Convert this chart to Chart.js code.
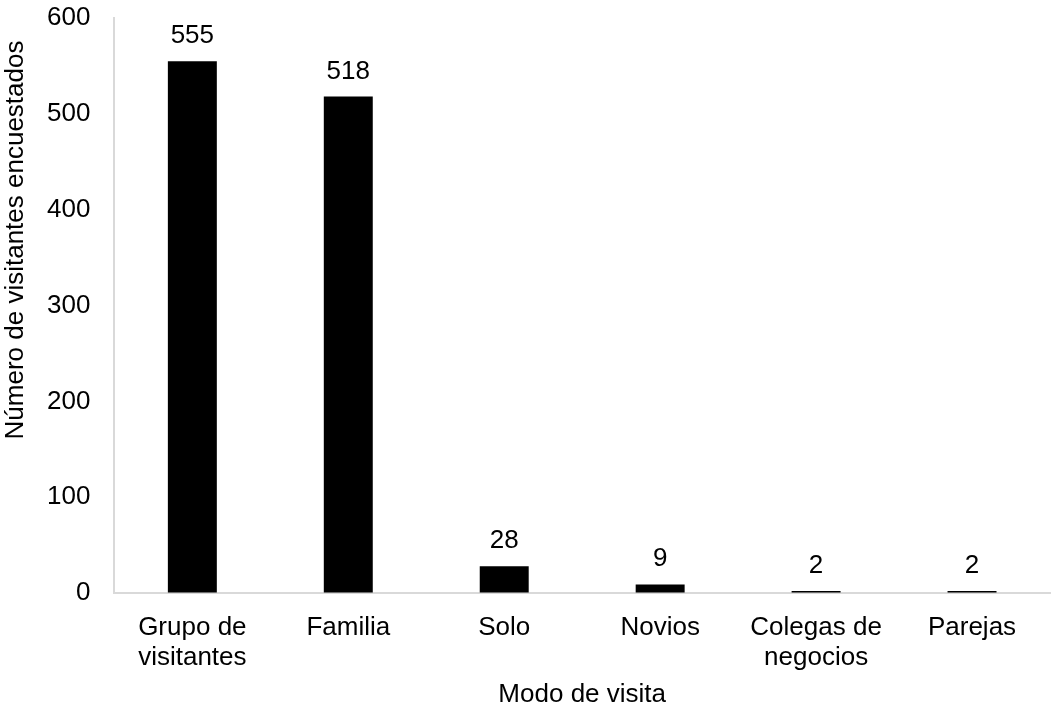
<!DOCTYPE html>
<html lang="es">
<head>
<meta charset="UTF-8">
<title>Modo de visita</title>
<script src="https://cdn.jsdelivr.net/npm/chart.js"></script>
<style>
  html, body { margin: 0; padding: 0; background: #fff; }
  #wrap { width: 1052px; height: 711px; }
</style>
</head>
<body>
<div id="wrap"><canvas id="chart" width="1052" height="711"></canvas></div>
<script>
// datos del gráfico
const categorias = [['Grupo de', 'visitantes'], 'Familia', 'Solo', 'Novios', ['Colegas de', 'negocios'], 'Parejas'];
const visitantes = [555, 518, 28, 9, 2, 2];
const ticksY = [0, 100, 200, 300, 400, 500, 600];
const tituloY = 'Número de visitantes encuestados';
const tituloX = 'Modo de visita';

const fuente = '"Liberation Sans", Arial, sans-serif';
const tam = 26;

// etiquetas de valor encima de cada barra
const etiquetasBarras = {
    id: 'etiquetasBarras',
    afterDatasetsDraw(chart) {
        const ctx = chart.ctx;
        const meta = chart.getDatasetMeta(0);
        ctx.save();
        ctx.font = tam + 'px ' + fuente;
        ctx.fillStyle = '#000';
        ctx.textAlign = 'center';
        ctx.textBaseline = 'alphabetic';
        meta.data.forEach((bar, i) => {
            ctx.fillText(String(chart.data.datasets[0].data[i]), bar.x, bar.y - 18);
        });
        ctx.restore();
    }
};

// título del eje Y, algo por encima del centro como en el original
const tituloEjeY = {
    id: 'tituloEjeY',
    afterDraw(chart) {
        const ctx = chart.ctx;
        const area = chart.chartArea;
        ctx.save();
        ctx.font = tam + 'px ' + fuente;
        ctx.fillStyle = '#000';
        ctx.textAlign = 'center';
        ctx.textBaseline = 'middle';
        ctx.translate(16, area.top + 222);
        ctx.rotate(-Math.PI / 2);
        ctx.fillText(tituloY, 0, 0);
        ctx.restore();
    }
};

new Chart(document.getElementById('chart'), {
    type: 'bar',
    data: {
        labels: categorias,
        datasets: [{
            data: visitantes,
            backgroundColor: '#000',
            borderWidth: 0,
            categoryPercentage: 1,
            barPercentage: 0.314
        }]
    },
    options: {
        responsive: false,
        animation: false,
        layout: { padding: { top: 18, right: 2, left: 47, bottom: 1 } },
        plugins: { legend: { display: false }, tooltip: { enabled: false } },
        scales: {
            x: {
                grid: { display: false, drawTicks: false },
                border: { color: '#d9d9d9', width: 2 },
                ticks: { color: '#000', font: { family: fuente, size: tam, lineHeight: 1.15 }, padding: 20, maxRotation: 0, autoSkip: false },
                title: { display: true, text: tituloX, color: '#000', font: { family: fuente, size: tam, lineHeight: 1.2 }, padding: { top: -14, bottom: 0 } }
            },
            y: {
                min: 0,
                max: 600,
                afterBuildTicks: axis => { axis.ticks = ticksY.map(v => ({ value: v })); },
                // marcas invisibles: solo separan las etiquetas del eje
                grid: { display: true, drawOnChartArea: false, drawTicks: true, tickLength: 24, color: 'rgba(0,0,0,0)' },
                border: { color: '#d9d9d9', width: 2 },
                ticks: { color: '#000', font: { family: fuente, size: tam, lineHeight: 1.2 }, padding: 0 }
            }
        }
    },
    plugins: [etiquetasBarras, tituloEjeY]
});
</script>
</body>
</html>
